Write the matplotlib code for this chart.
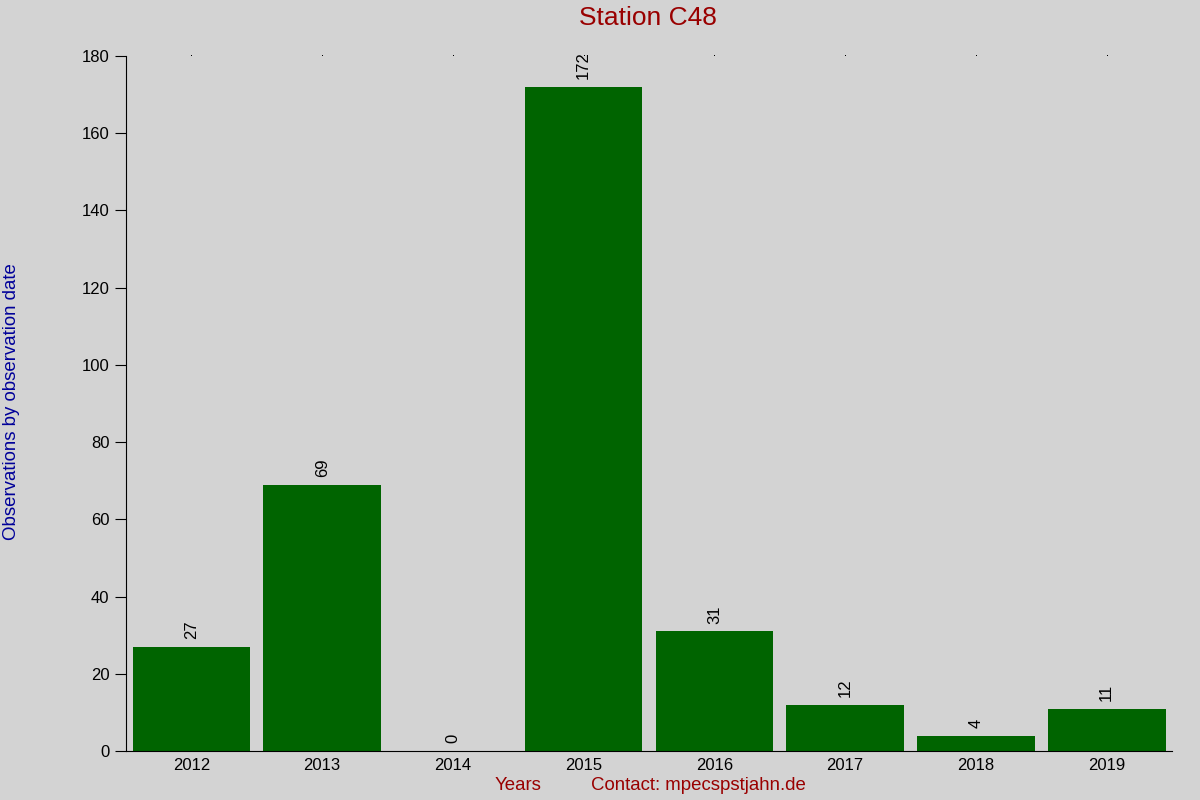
import numpy as np
import matplotlib
matplotlib.use("Agg")
from matplotlib import pyplot as plt

plt.rcParams['font.family'] = ['Liberation Sans', 'DejaVu Sans']

years = ['2012', '2013', '2014', '2015', '2016', '2017', '2018', '2019']
counts = [27, 69, 0, 172, 31, 12, 4, 11]

bg = '#d3d3d3'
fig = plt.figure(figsize=(12, 8), dpi=100, facecolor=bg)
ax = fig.add_axes([0.105, 0.06125, 0.8717, 0.86875], facecolor=bg)

x = np.arange(len(years))
bars = ax.bar(x, counts, width=0.9, color='#006400')

for xi, c in zip(x, counts):
    ax.text(xi, c + 2, str(c), rotation=90, ha='center', va='bottom', fontsize=12)

ax.set_xlim(-0.5, len(years) - 0.5)
ax.set_ylim(0, 180)
ax.set_yticks(np.arange(0, 181, 20))
ax.set_xticks(x)
ax.set_xticklabels(years)

ax.spines['top'].set_visible(False)
ax.spines['right'].set_visible(False)
ax.tick_params(axis='y', direction='out', length=8, labelsize=12, pad=4)
ax.tick_params(axis='x', length=0, labelsize=12, pad=5)
# tiny marks at the top of each category
for xi in x:
    ax.plot(xi, 180, marker=',', color='black', clip_on=False)

fig.text(0.54, 0.9775, 'Station C48', ha='center', va='center', fontsize=19, color='#990000')
fig.text(0.01, 0.4975, 'Observations by observation date', rotation=90, ha='center', va='center',
         fontsize=13.4, color='#000099')
fig.text(0.412, 0.018, 'Years', ha='left', va='center', fontsize=13.4, color='#990000')
fig.text(0.4925, 0.018, 'Contact: mpecspstjahn.de', ha='left', va='center', fontsize=13.4, color='#990000')

fig.savefig('out.png', dpi=100, facecolor=bg)
